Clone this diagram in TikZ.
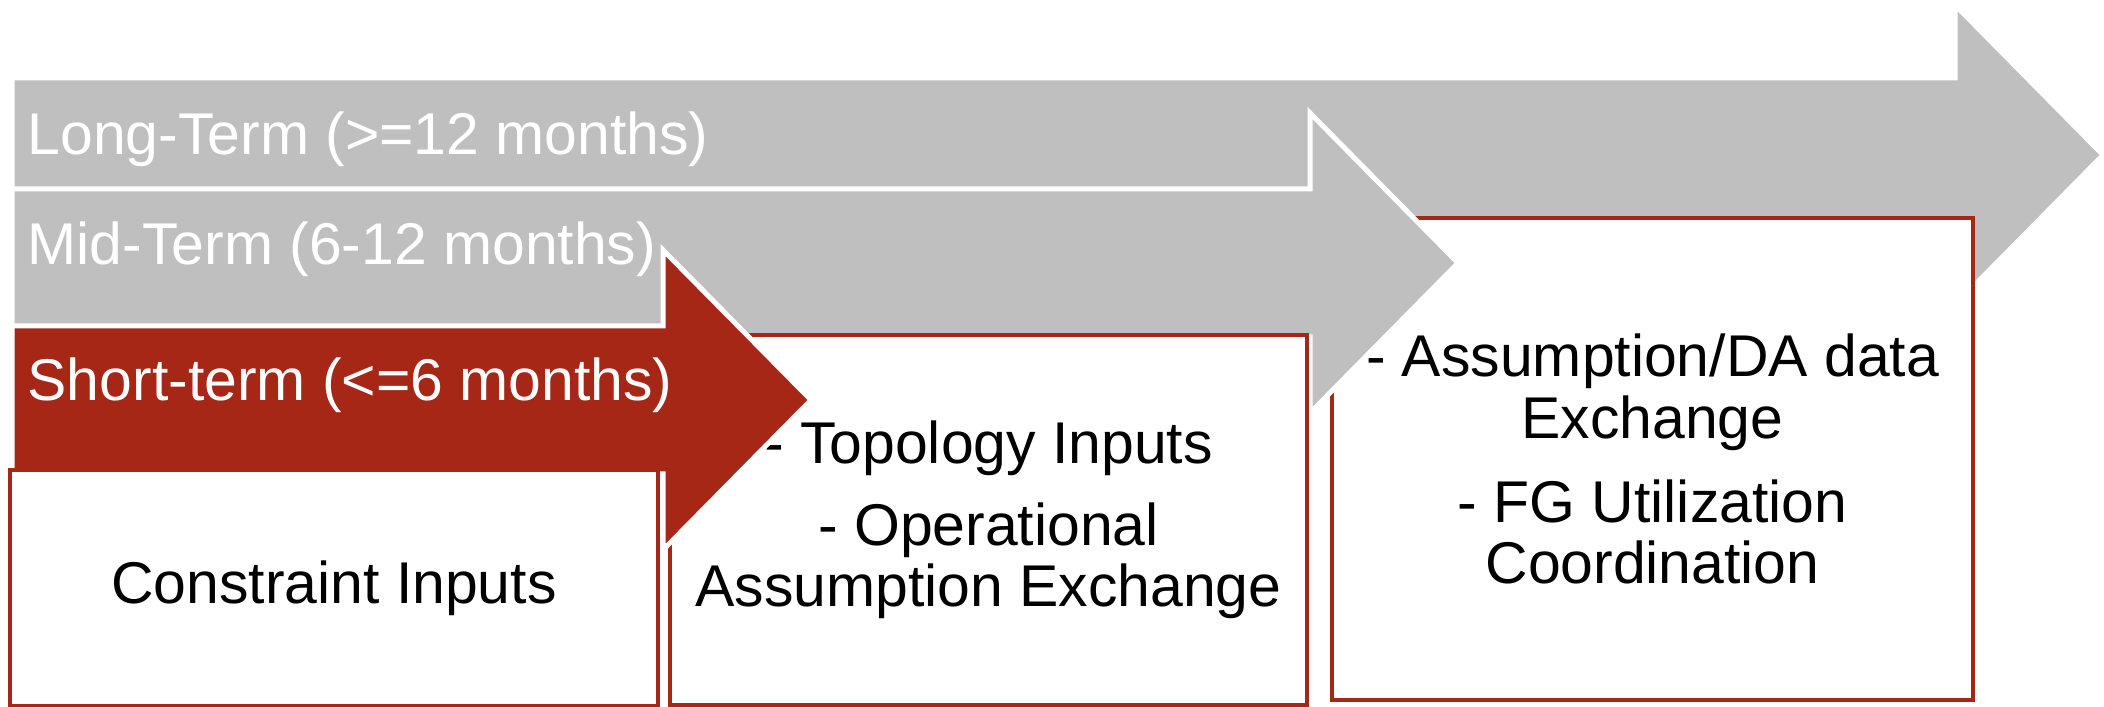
\documentclass[tikz,border=0pt]{standalone}
\usepackage{fontspec}
\setmainfont{Liberation Sans}
\definecolor{termgray}{HTML}{BFBFBF}
\definecolor{termred}{HTML}{A62716}
\newcommand{\termfont}{\fontsize{16.75pt}{17.4pt}\selectfont}
\def\termarrow[#1](#2:#3:#4){\filldraw[#1] (12,#2) -- (#3,#2) -- (#3,#4-150) -- (#3+148,#4) -- (#3,#4+150) -- (#3,2*#4-#2) -- (12,2*#4-#2) -- cycle;}

\begin{document}
\begin{tikzpicture}[x=0.01cm, y=-0.01cm,
	termlabel/.style={text=white, anchor=base west, inner sep=0pt, font=\termfont},
	termbox/.style={draw=termred, line width=0.04cm, fill=white, align=center, inner sep=0pt, font=\termfont}]
		%%%%% START %%%%%
		
		\useasboundingbox (0,0) rectangle (2104,707);
		
		\termarrow[fill=termgray, draw=white, line width=0.05cm](78:1955:155);
		\node[termlabel] (longlabel) at (27,155) {Long-Term (>=12 months)};
		
		\node[termbox, minimum width=6.41cm, minimum height=4.82cm] (longbox) at (1652.5,459) {- Assumption/DA data\\Exchange\\[6.5pt]- FG Utilization\\Coordination};
		
		\termarrow[fill=termgray, draw=white, line width=0.05cm](189:1310:263);
		\node[termlabel] (midlabel) at (27,265) {Mid-Term (6-12 months)};
		
		\node[termbox, minimum width=6.37cm, minimum height=3.70cm] (midbox) at (988.5,520) {- Topology Inputs\\[6pt]- Operational\\Assumption Exchange};
		
		\termarrow[fill=termred, draw=white, line width=0.05cm](326:663:400);
		\node[termlabel] (shortlabel) at (27,401) {Short-term (<=6 months)};
		
		\node[termbox, minimum width=6.48cm, minimum height=2.36cm] (shortbox) at (334,588) {Constraint Inputs};
		
		%%%%% END %%%%%
\end{tikzpicture}
\end{document}
